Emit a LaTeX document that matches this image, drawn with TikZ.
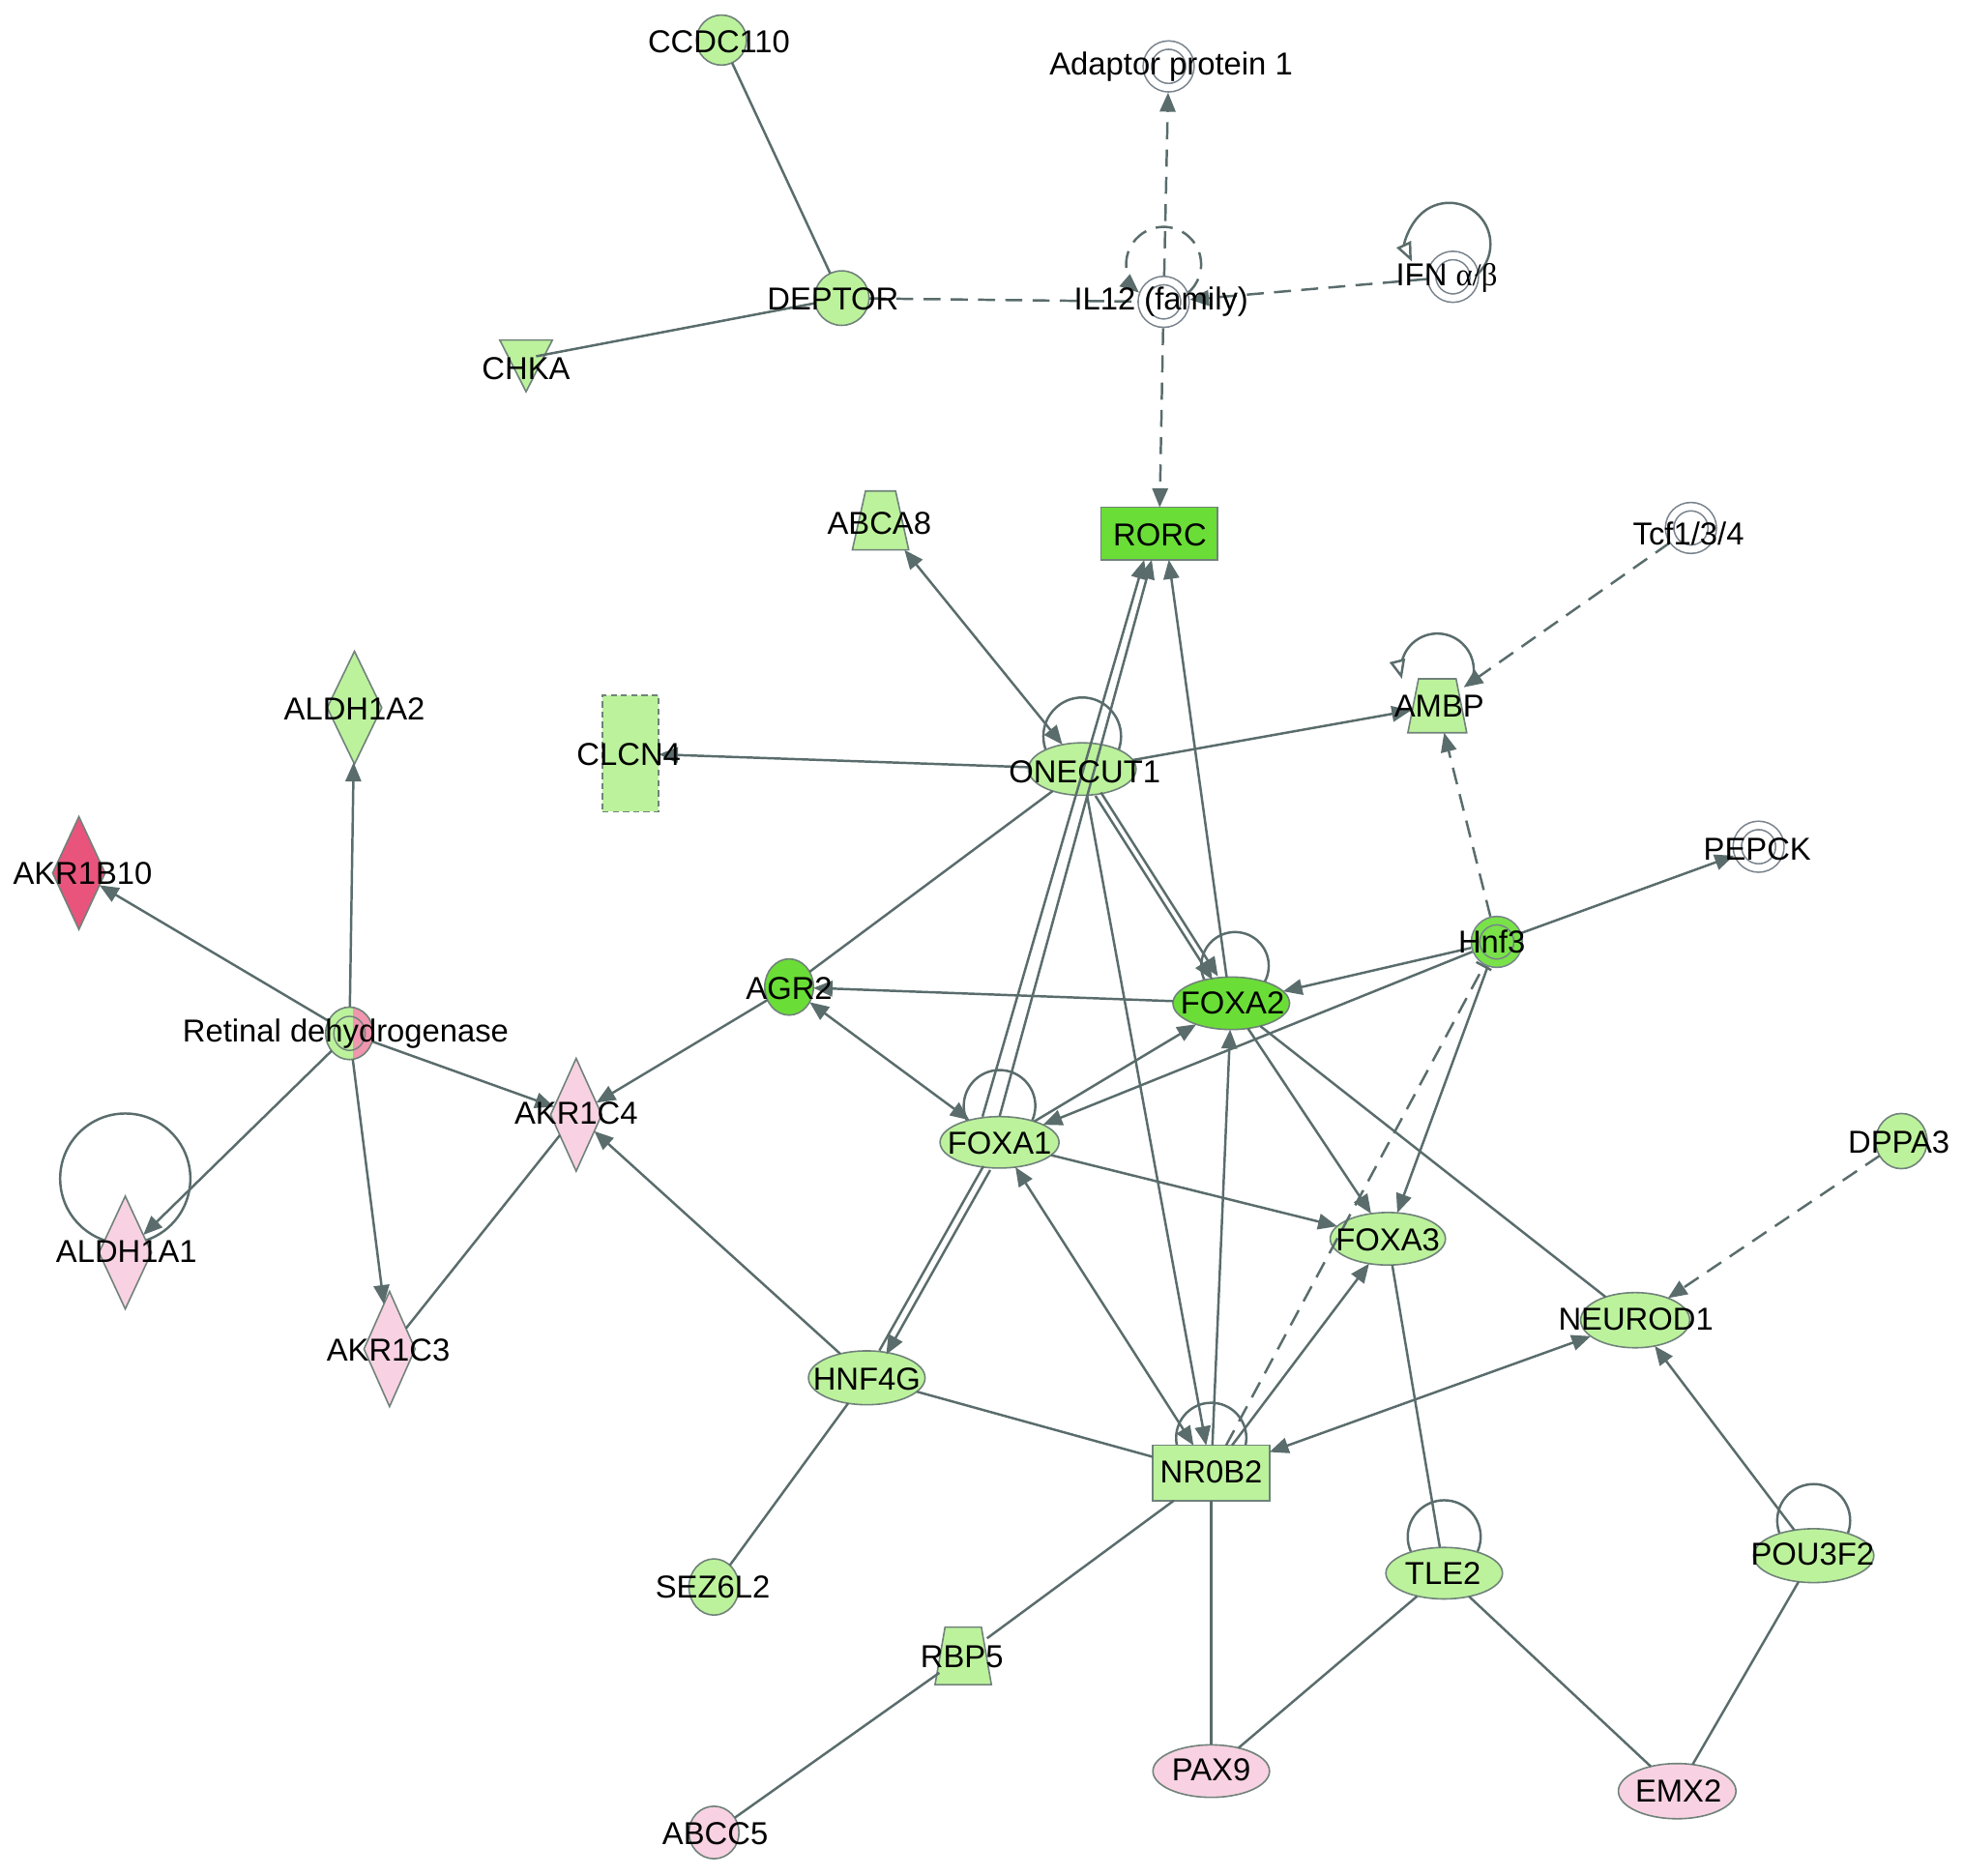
\documentclass[tikz,border=0pt]{standalone}
\usepackage{fontspec}
\setmainfont{Liberation Sans}
\newfontfamily\grkfont{Liberation Serif}
\usetikzlibrary{shapes.geometric,arrows.meta}
\pgfdeclarelayer{bg}
\pgfsetlayers{bg,main}
\definecolor{lgreen}{RGB}{188,242,156}
\definecolor{dgreen}{RGB}{106,222,54}
\definecolor{hgreen}{RGB}{120,226,72}
\definecolor{lpink}{RGB}{248,210,226}
\definecolor{dpink}{RGB}{232,84,124}
\definecolor{rpink}{RGB}{240,150,175}
\definecolor{nbord}{RGB}{112,130,122}
\definecolor{gbord}{RGB}{120,130,140}
\definecolor{edgec}{RGB}{90,108,108}
\newcommand{\lblfont}{\fontsize{9.3pt}{11pt}\selectfont}
\begin{document}
\begin{tikzpicture}[x=0.3675pt,y=-0.3675pt,
 >={Triangle[length=5.6pt,width=4.6pt]},
 every node/.style={inner sep=0pt,outer sep=0pt},
 shp/.style={draw=nbord,line width=0.45pt},
 lg/.style={shp,fill=lgreen},
 dg/.style={shp,fill=dgreen},
 pk/.style={shp,fill=lpink},
 circ/.style={circle,minimum size=#1},
 ell/.style 2 args={ellipse,minimum width=#1,minimum height=#2},
 box/.style 2 args={rectangle,minimum width=#1,minimum height=#2},
 dia/.style 2 args={diamond,minimum width=#1,minimum height=#2},
 grp/.style={circle,draw=gbord,line width=0.45pt,double=#1,fill=#1,double distance=2pt,minimum size=12.5pt,outer sep=1.45pt},
 grp/.default=white,
 ln/.style={draw=edgec,line width=0.7pt},
 arr/.style={ln,->},
 barr/.style={ln,<->},
 dsh/.style={ln,dash pattern=on 5pt off 3pt},
 darr/.style={dsh,->},
 dbar/.style={dsh,-{Bar[width=5pt]}},
 oarr/.style={ln,-{Triangle[length=5.6pt,width=4.6pt,fill=white]}},
 lbl/.style={font=\lblfont,text=black},
]
\useasboundingbox (0,0) rectangle (1568,1497);

% ---------- shapes ----------
\node[circ=14.7pt,lg] (ccdc) at (576,32) {};
\node[grp] (adaptor) at (933,53) {};
\node[circ=16pt,lg] (deptor) at (672,238) {};
\node[grp] (il12) at (929,241) {};
\node[grp] (ifn) at (1160,221) {};
\draw[lg] (399,271.5) -- (441,271.5) -- (420,312.7) -- cycle;
\node[circ=6pt] (chka) at (420,286) {};
\draw[lg] (691,392) -- (715,392) -- (725.5,439) -- (680.5,439) -- cycle;
\node[box={15pt}{17.3pt}] (abca8) at (703,415.5) {};
\node[box={34.2pt}{15.4pt},dg] (rorc) at (925.5,426) {};
\node[grp] (tcf) at (1350,421.5) {};
\node[dia={16pt}{33.1pt},lg] (aldh1a2) at (283,565) {};
\node[box={16.5pt}{34.2pt},draw=nbord,line width=0.45pt,dash pattern=on 1.8pt off 1.2pt,fill=lgreen] (clcn4) at (503.5,601.5) {};
\node[ell={31.6pt}{15.4pt},lg] (onecut) at (864,614) {};
\draw[lg] (1132.5,542) -- (1162.5,542) -- (1171,585) -- (1124,585) -- cycle;
\node[box={15.5pt}{15.8pt}] (ambp) at (1147.5,563.5) {};
\node[grp] (pepck) at (1404,676) {};
\node[dia={15.4pt}{33.1pt},shp,fill=dpink] (akr1b10) at (63,697) {};
\node[grp=hgreen] (hnf3) at (1195,752) {};
\node[ell={14.3pt}{16.5pt},dg] (agr2) at (630,788) {};
\node[ell={34.2pt}{15.4pt},dg] (foxa2) at (983,801) {};
\node[ellipse,minimum width=14pt,minimum height=15.4pt,draw=nbord,line width=0.45pt,fill=lgreen,
  path picture={\fill[rpink] ([xshift=1pt]path picture bounding box.north) rectangle (path picture bounding box.south east);}] (retinal) at (279,825) {};
\draw[nbord,line width=0.4pt] (retinal.center) ellipse[x radius=4.6pt,y radius=5pt];
\node[dia={15pt}{33.1pt},pk] (akr1c4) at (460,890) {};
\node[ell={34.9pt}{15.1pt},lg] (foxa1) at (798,912) {};
\node[ell={15.1pt}{16.2pt},lg] (dppa3) at (1518,911) {};
\node[dia={15.4pt}{33.1pt},pk] (aldh1a1) at (100,1000) {};
\node[ell={33.8pt}{15.4pt},lg] (foxa3) at (1108,989) {};
\node[ell={32pt}{16.2pt},lg] (neurod1) at (1305.5,1054) {};
\node[dia={15pt}{33.8pt},pk] (akr1c3) at (311,1077) {};
\node[ell={34.2pt}{15.8pt},lg] (hnf4g) at (692,1100) {};
\node[box={34.2pt}{16.2pt},lg] (nr0b2) at (967,1176) {};
\node[ell={34.2pt}{15.1pt},lg] (tle2) at (1153,1256) {};
\node[ell={35.3pt}{15.8pt},lg] (pou3f2) at (1448,1242) {};
\node[ell={14.7pt}{16.5pt},lg] (sez6l2) at (570,1267) {};
\draw[lg] (754.5,1299) -- (783.5,1299) -- (791.5,1345) -- (746.5,1345) -- cycle;
\node[box={14pt}{16.9pt}] (rbp5) at (769,1322) {};
\node[ell={34.2pt}{15.4pt},pk] (pax9) at (967,1414) {};
\node[ell={34.5pt}{16.2pt},pk] (emx2) at (1339,1430) {};
\node[ell={14.7pt}{15.4pt},pk] (abcc5) at (570,1463) {};

% ---------- background: white page and plain self-loops ----------
\begin{pgfonlayer}{bg}
\fill[white] (0,0) rectangle (1568,1497);
\draw[ln] (onecut.center) ++(0,9.6pt) circle[radius=11.4pt];
\draw[ln] (foxa2.center) ++(1.1pt,11pt) circle[radius=9.9pt];
\draw[ln] (foxa1.center) ++(0,10.7pt) circle[radius=10.5pt];
\draw[ln] (nr0b2.center) ++(0,10.3pt) circle[radius=10.3pt];
\draw[ln] (tle2.center) ++(0,10.7pt) circle[radius=10.7pt];
\draw[ln] (pou3f2.center) ++(0,10.3pt) circle[radius=10.7pt];
\draw[ln] (aldh1a1.center) ++(0,21.7pt) circle[radius=19.1pt];
\end{pgfonlayer}

% ---------- self-loops with tips ----------
\draw[dsh,->] (il12.center) ++(0,11pt) ++(-49:11pt) arc[start angle=-49,end angle=229,radius=11pt];
\draw[oarr] (ifn.center) ++(-1.1pt,9.6pt) ++(-51:12.1pt) arc[start angle=-51,end angle=205,radius=12.1pt];
\draw[oarr] (ambp.center) ++(0,10.5pt) ++(-14:10.7pt) arc[start angle=-14,end angle=194,radius=10.7pt];

% ---------- connectors ----------
\draw[ln] (ccdc) -- (deptor);
\draw[ln] (deptor) -- (chka);
\draw[dsh] (deptor) -- (il12);
\draw[darr] (il12) -- (adaptor);
\draw[darr] (ifn) -- (il12);
\draw[darr] (il12) -- (rorc);

\draw[arr] (onecut) -- (clcn4);
\draw[arr] (onecut) -- (ambp);
\draw[ln] (onecut) -- (agr2);
\draw[barr] (abca8) -- (onecut);
\draw[arr,transform canvas={shift={(0.8pt,0.5pt)}}] (onecut) -- (foxa2);
\draw[arr,transform canvas={shift={(-0.8pt,-0.5pt)}}] (onecut) -- (foxa2);
\draw[arr] (onecut) -- (nr0b2);
\draw[arr] (foxa1.north) -- ([xshift=-2.2pt]rorc.south);
\draw[arr] ([xshift=-5pt]foxa1.north) -- ([xshift=-4.4pt]rorc.south);
\draw[arr] (foxa2.100) -- ([xshift=2.8pt]rorc.south);

\draw[arr] (foxa2) -- (agr2);
\draw[barr] (agr2) -- (foxa1);
\draw[arr] (agr2) -- (akr1c4);
\draw[arr] (foxa1) -- (foxa2);
\draw[arr] (hnf3) -- (foxa1);
\draw[arr] (hnf3) -- (foxa2);
\draw[arr] (hnf3) -- (foxa3);
\draw[arr] (hnf3) -- (pepck);
\draw[darr] (hnf3) -- (ambp);
\draw[darr] (tcf) -- (ambp);
\draw[arr] (foxa2) -- (foxa3);
\draw[ln] (foxa2) -- (neurod1);
\draw[arr] (foxa1) -- (foxa3);
\draw[arr,transform canvas={shift={(1.4pt,-0.8pt)}}] (foxa1) -- (hnf4g);
\draw[ln,transform canvas={shift={(-0.6pt,0.35pt)}}] (hnf4g) -- (foxa1);
\draw[barr] (foxa1) -- (nr0b2);
\draw[arr] (nr0b2) -- (foxa2);
\draw[arr] (nr0b2) -- (foxa3);
\draw[dbar] (nr0b2) -- (hnf3);
\draw[barr] (nr0b2) -- (neurod1);
\draw[ln] (hnf4g) -- (nr0b2);
\draw[arr] (hnf4g) -- (akr1c4);
\draw[ln] (hnf4g) -- (sez6l2);
\draw[ln] (nr0b2) -- (rbp5);
\draw[ln] (nr0b2) -- (pax9);
\draw[ln] (rbp5) -- (abcc5);
\draw[ln] (foxa3) -- (tle2);
\draw[ln] (tle2) -- (pax9);
\draw[ln] (tle2) -- (emx2);
\draw[arr] (pou3f2) -- (neurod1);
\draw[ln] (pou3f2) -- (emx2);
\draw[darr] (dppa3) -- (neurod1);

\draw[arr] (retinal) -- (aldh1a2);
\draw[arr] (retinal) -- (akr1b10);
\draw[arr] (retinal) -- (aldh1a1);
\draw[arr] (retinal) -- (akr1c3);
\draw[arr] (retinal) -- (akr1c4);
\draw[ln] (akr1c3) -- (akr1c4);

% ---------- labels ----------
\node[lbl] (ccdcL) at (574,33) {CCDC110};
\node[lbl] (adaptorL) at (935,53) {Adaptor protein 1};
\node[lbl] (deptorL) at (665,239) {DEPTOR};
\node[lbl] (il12L) at (927,241) {IL12 (family)};
\node[lbl] (ifnL) at (1155,222) {IFN {\grkfont α/β}};
\node[lbl] (chkaL) at (420,294) {CHKA};
\node[lbl] (abca8L) at (702,418) {ABCA8};
\node[lbl] (rorcL) at (926,427) {RORC};
\node[lbl] (tcfL) at (1348,426) {Tcf1/3/4};
\node[lbl] (aldh1a2L) at (283,566) {ALDH1A2};
\node[lbl] (clcn4L) at (502,602) {CLCN4};
\node[lbl] (onecutL) at (866,616) {ONECUT1};
\node[lbl] (ambpL) at (1149,564) {AMBP};
\node[lbl] (pepckL) at (1403,678) {PEPCK};
\node[lbl] (akr1b10L) at (66,697) {AKR1B10};
\node[lbl] (hnf3L) at (1191,752) {Hnf3};
\node[lbl] (agr2L) at (630,789) {AGR2};
\node[lbl] (foxa2L) at (984,801) {FOXA2};
\node[lbl] (retinalL) at (276,825) {Retinal dehydrogenase};
\node[lbl] (akr1c4L) at (460,889) {AKR1C4};
\node[lbl] (foxa1L) at (798,913) {FOXA1};
\node[lbl] (dppa3L) at (1516,912) {DPPA3};
\node[lbl] (aldh1a1L) at (101,999) {ALDH1A1};
\node[lbl] (foxa3L) at (1108,990) {FOXA3};
\node[lbl] (neurod1L) at (1306,1053) {NEUROD1};
\node[lbl] (akr1c3L) at (310,1078) {AKR1C3};
\node[lbl] (hnf4gL) at (692,1101) {HNF4G};
\node[lbl] (nr0b2L) at (967,1175) {NR0B2};
\node[lbl] (tle2L) at (1152,1256) {TLE2};
\node[lbl] (pou3f2L) at (1447,1241) {POU3F2};
\node[lbl] (sez6l2L) at (569,1267) {SEZ6L2};
\node[lbl] (rbp5L) at (768,1323) {RBP5};
\node[lbl] (pax9L) at (967,1413) {PAX9};
\node[lbl] (emx2L) at (1340,1430) {EMX2};
\node[lbl] (abcc5L) at (571,1464) {ABCC5};
\end{tikzpicture}
\end{document}
